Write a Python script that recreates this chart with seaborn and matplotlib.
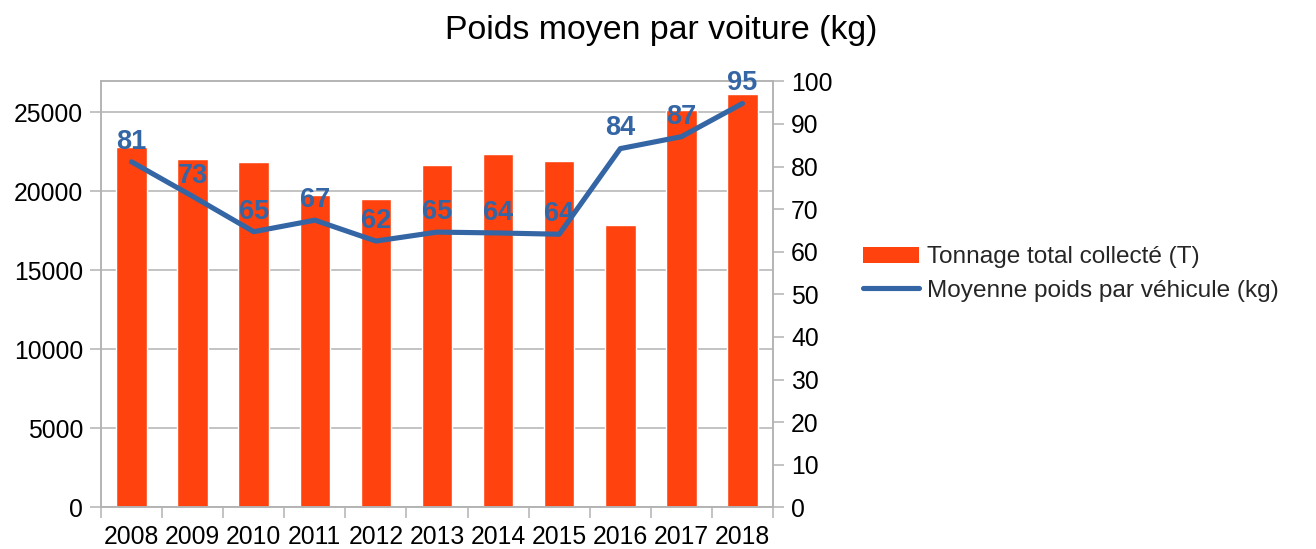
import numpy as np
import pandas as pd
import matplotlib
matplotlib.use("Agg")
import matplotlib.pyplot as plt
import seaborn as sns
from matplotlib.patches import Patch
from matplotlib.lines import Line2D

years = ["2008", "2009", "2010", "2011", "2012", "2013", "2014", "2015", "2016", "2017", "2018"]
tonnage = [22800, 22050, 21850, 19770, 19510, 21670, 22360, 21920, 17870, 25150, 26180]
poids_moyen = [81.1, 73.0, 64.7, 67.4, 62.5, 64.6, 64.4, 64.1, 84.2, 87.0, 94.8]
left_ticks = [0, 5000, 10000, 15000, 20000, 25000]
right_ticks = [0, 10, 20, 30, 40, 50, 60, 70, 80, 90, 100]

title = "Poids moyen par voiture (kg)"
bar_label = "Tonnage total collecté (T)"
line_label = "Moyenne poids par véhicule (kg)"

bar_color = "#ff420e"
line_color = "#3465a4"
grid_color = "#b3b3b3"

sns.set_theme(style="white")
plt.rcParams["font.family"] = ["Liberation Sans", "DejaVu Sans"]

df = pd.DataFrame({"annee": years, "tonnage": tonnage, "poids": poids_moyen})
df["pos"] = np.arange(len(years))

fig = plt.figure(figsize=(13.16, 5.49), dpi=100)
ax = fig.add_axes([101 / 1316, 1 - 507.3 / 549, (773 - 101) / 1316, (507.3 - 81.3) / 549])

sns.barplot(data=df, x="annee", y="tonnage", color=bar_color, saturation=1,
            width=0.5, ax=ax, zorder=2)
ax.set_xlim(-0.5, len(years) - 0.5)
ax.set_ylim(0, 26970)
ax.set_yticks(left_ticks)
ax.set_yticklabels([str(t) for t in left_ticks])
ax.yaxis.grid(True, color=grid_color, linewidth=1.1, zorder=0)
ax.set_axisbelow(True)
ax.set_xlabel("")
ax.set_ylabel("")

ax2 = ax.twinx()
sns.lineplot(data=df, x="pos", y="poids", color=line_color, linewidth=3.7,
             ax=ax2, zorder=3)
ax2.set_ylim(0, 100)
ax2.set_yticks(right_ticks)
ax2.set_ylabel("")
ax2.set_xlabel("")
ax2.set_xlim(-0.5, len(years) - 0.5)

for i, v in enumerate(poids_moyen):
    ax2.annotate(f"{v:.0f}", (i, v), xytext=(0, 14.5), textcoords="offset points",
                 ha="center", va="center", fontsize=19.5, fontweight="bold",
                 color=line_color, zorder=5)

for a in (ax, ax2):
    for s in a.spines.values():
        s.set_color(grid_color)
        s.set_linewidth(1.1)

# x ticks: labels at centers, marks at boundaries
ax.set_xticks(np.arange(len(years)))
ax.set_xticklabels(years)
ax.set_xticks(np.arange(len(years) + 1) - 0.5, minor=True)
ax.tick_params(axis="x", which="major", length=0, pad=13, labelsize=17.8, colors="black")
ax.tick_params(axis="x", which="minor", length=8, width=1.1, color=grid_color, bottom=True)
ax.tick_params(axis="y", which="major", length=8, width=1.1, color=grid_color, pad=5,
               labelsize=17.8, labelcolor="black", left=True)
ax2.tick_params(axis="y", which="major", length=8, width=1.1, color=grid_color, pad=5,
                labelsize=17.8, labelcolor="black", right=True)

fig.text(661 / 1316, 1 - 31 / 549, title, ha="center", va="center", fontsize=24.4, color="black")

handles = [Patch(facecolor=bar_color, edgecolor="none", label=bar_label),
           Line2D([0], [0], color=line_color, linewidth=3.7, label=line_label)]
fig.legend(handles=handles, loc="center left", bbox_to_anchor=(863 / 1316, 1 - 274 / 549),
           frameon=False, fontsize=17.6, handlelength=2.3, handleheight=0.6,
           handletextpad=0.32, labelspacing=0.45, borderpad=0, borderaxespad=0)

fig.savefig("out.png", dpi=100, facecolor="white")
